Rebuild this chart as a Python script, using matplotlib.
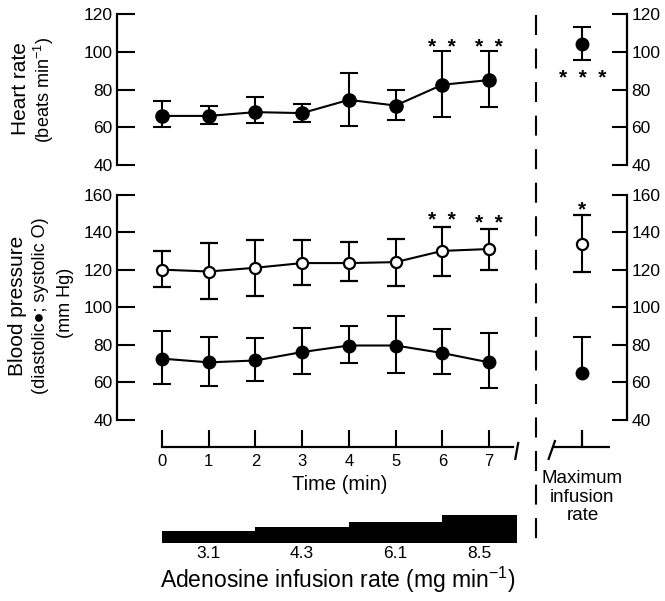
import matplotlib
matplotlib.use('Agg')
import matplotlib.pyplot as plt
import matplotlib.transforms as mtransforms
import numpy as np

plt.rcParams['font.family'] = ['Liberation Sans', 'DejaVu Sans']
plt.rcParams['mathtext.fontset'] = 'custom'
plt.rcParams['mathtext.rm'] = 'Liberation Sans'
plt.rcParams['mathtext.it'] = 'Liberation Sans:italic'

# Time points (min)
time = [0, 1, 2, 3, 4, 5, 6, 7]

# Heart rate: mean and the ends of each error bar
hr = [66, 66, 68, 67.5, 74.5, 71.5, 82.5, 85]
hr_lo = [60, 61.5, 62, 63, 60.5, 64, 65.5, 70.5]
hr_hi = [74, 71.5, 76, 72.5, 88.5, 79.5, 100.5, 100.5]

# Systolic blood pressure
sys_bp = [120, 119, 121, 123.5, 123.5, 124, 130, 131]
sys_lo = [110.5, 104.5, 106, 112, 114, 111, 116.5, 120]
sys_hi = [130, 134, 136, 136, 135, 136.5, 143, 141.5]

# Diastolic blood pressure
dia_bp = [72.5, 70.5, 71.5, 76, 79.5, 79.5, 75.5, 70.5]
dia_lo = [59, 58, 60.5, 64.5, 70, 65, 64.5, 57]
dia_hi = [87, 84, 83.5, 89, 90, 95, 88.5, 86]

# Maximum infusion rate
max_pos = 9
hr_max, hr_max_lo, hr_max_hi = 104, 95.5, 113
sys_max, sys_max_lo, sys_max_hi = 133.5, 119, 149
dia_max, dia_max_hi = 65, 84

# Significance marks (x, y, text)
hr_stars = [(6, 106, '*  *'), (7, 106, '*  *'), (9, 89.5, '*  *  *')]
bp_stars = [(6, 150, '*  *'), (7, 148, '*  *'), (9, 155.5, '*')]

# Adenosine infusion steps
rate_edges = [0, 2, 4, 6, 7.6]
rates = [3.1, 4.3, 6.1, 8.5]

W_PX, H_PX = 665, 601
fig = plt.figure(figsize=(W_PX / 100, H_PX / 100), dpi=100)

XLIM = (-0.963, 9.955)
L = 117 / W_PX
W = (627 - 117) / W_PX


def fy(px):
    return 1 - px / H_PX


def panel(rect, ylim, ticks):
    ax = fig.add_axes(rect)
    ax.set_xlim(*XLIM)
    ax.set_ylim(*ylim)
    ax.patch.set_visible(False)
    ax.spines['top'].set_visible(False)
    ax.spines['bottom'].set_visible(False)
    ax.spines['left'].set_linewidth(1.6)
    ax.spines['right'].set_linewidth(1.6)
    ax.set_xticks([])
    ax.set_yticks(ticks)
    ax.tick_params(axis='y', direction='in', left=True, right=True,
                   labelleft=True, labelright=True, width=1.5,
                   labelsize=12.5, pad=3)
    for t in ax.yaxis.get_major_ticks():
        t.tick1line.set_markersize(12.7)
        t.tick2line.set_markersize(10.8)
    return ax


def star_text(ax, items, fs=15):
    off = mtransforms.offset_copy(ax.transData, fig=fig, y=-0.58 * fs, units='points')
    for x, y, s in items:
        ax.text(x, y, s, transform=off, ha='center', va='baseline',
                fontsize=fs, fontweight='bold')


ebar = dict(color='black', lw=1.5, elinewidth=1.5, capsize=6.5, capthick=1.5)

# Heart rate panel
ax_hr = panel([L, fy(165), W, 151 / H_PX], (40, 120), [40, 60, 80, 100, 120])
hr_a = np.array(hr)
ax_hr.errorbar(time, hr, yerr=[hr_a - hr_lo, np.array(hr_hi) - hr_a],
               fmt='o-', ms=9.5, mfc='black', mec='black', **ebar)
ax_hr.errorbar([max_pos], [hr_max], yerr=[[hr_max - hr_max_lo], [hr_max_hi - hr_max]],
               fmt='o', ms=9, mfc='black', mec='black', **ebar)
star_text(ax_hr, hr_stars)

# Blood pressure panel
ax_bp = panel([L, fy(419.5), W, 224.8 / H_PX], (40, 160), [40, 60, 80, 100, 120, 140, 160])
sa = np.array(sys_bp)
da = np.array(dia_bp)
ax_bp.errorbar(time, dia_bp, yerr=[da - dia_lo, np.array(dia_hi) - da],
               fmt='o-', ms=9, mfc='black', mec='black', **ebar)
ax_bp.errorbar(time, sys_bp, yerr=[sa - sys_lo, np.array(sys_hi) - sa],
               fmt='o-', ms=8, mfc='white', mec='black', mew=1.6, **ebar)
ax_bp.errorbar([max_pos], [sys_max], yerr=[[sys_max - sys_max_lo], [sys_max_hi - sys_max]],
               fmt='o', ms=8, mfc='white', mec='black', mew=1.6, **ebar)
# diastolic at max infusion: upper bar only
_, caps, _ = ax_bp.errorbar([max_pos], [dia_max], yerr=[[0], [dia_max_hi - dia_max]],
                            fmt='o', ms=9, mfc='black', mec='black', **ebar)
caps[0].set_visible(False)
star_text(ax_bp, bp_stars)

# Time axis
tax = fig.add_axes([L, fy(447), W, 17 / H_PX])
tax.set_xlim(*XLIM)
tax.set_ylim(0, 1)
tax.patch.set_visible(False)
for s in ['top', 'left', 'right']:
    tax.spines[s].set_visible(False)
tax.spines['bottom'].set_bounds(0, 7.52)
tax.spines['bottom'].set_linewidth(1.6)
tax.set_yticks([])
tax.set_xticks(time)
tax.tick_params(axis='x', direction='in', length=12.2, width=1.5, labelsize=12, pad=5)
line_kw = dict(color='black', lw=1.6, clip_on=False, solid_capstyle='butt')
tax.plot([7.56, 7.63], [-0.76, 0.3], **line_kw)
tax.plot([8.27, 8.42], [-0.76, 0.41], **line_kw)
tax.plot([8.37, 9.59], [0, 0], **line_kw)
tax.plot([max_pos, max_pos], [0, 1], **line_kw)

fig.text(340 / W_PX, fy(485), 'Time (min)', ha='center', va='center', fontsize=14.5)

# Infusion rate steps
bax = fig.add_axes([L, fy(542.7), W, 32 / H_PX])
bax.set_xlim(*XLIM)
bax.set_ylim(-1.03, 10)
bax.axis('off')
bax.stairs(rates, rate_edges, baseline=-1.03, fill=True, color='black', lw=0)
centers = [(a + b) / 2 for a, b in zip(rate_edges[:-1], rate_edges[1:])]
lab_tr = mtransforms.offset_copy(bax.transData, fig=fig, y=-11, units='dots')
for c, r in zip(centers, rates):
    bax.text(c, -1.03, str(r), transform=lab_tr, ha='center', va='center', fontsize=12.5)

fig.text(338 / W_PX, fy(580), 'Adenosine infusion rate (mg min$^{-1}$)',
         ha='center', va='center', fontsize=16.5)

# Max infusion label
bl = mtransforms.blended_transform_factory(tax.transData, fig.transFigure)
fig.text(max_pos, fy(497), 'Maximum\ninfusion\nrate', transform=bl,
         ha='center', va='center', fontsize=13.5, linespacing=1.1)

# Dashed separator
fig.add_artist(plt.Line2D([8, 8], [fy(15), fy(548)], transform=bl, color='black',
                          lw=1.5, linestyle=(0, (9.6, 6.5))))

# Y labels
fig.text(21 / W_PX, fy(89), 'Heart rate', rotation=90, ha='center', va='center', fontsize=15)
fig.text(44 / W_PX, fy(90), '(beats min$^{-1}$)', rotation=90, ha='center', va='center', fontsize=13)
fig.text(18 / W_PX, fy(306), 'Blood pressure', rotation=90, ha='center', va='center', fontsize=15)
fig.text(41 / W_PX, fy(306), '(diastolic\u25CF; systolic O)', rotation=90, ha='center', va='center', fontsize=13)
fig.text(66 / W_PX, fy(303), '(mm Hg)', rotation=90, ha='center', va='center', fontsize=13)

fig.savefig('out.png', dpi=100)
